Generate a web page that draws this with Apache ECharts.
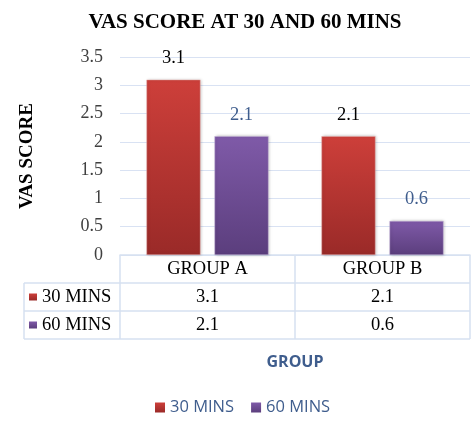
<!DOCTYPE html>
<html lang="en">
<head>
    <meta charset="UTF-8">
    <title>VAS score</title>
    <style>
        html, body { margin: 0; padding: 0; background: #fff; }
        #main { width: 471px; height: 421px; }
    </style>
</head>
<body>
    <div id="main"></div>
    <script src="https://cdn.jsdelivr.net/npm/echarts@6/dist/echarts.min.js"></script>
    <script>
        // data
        const groups = ['GROUP A', 'GROUP B']
        const mins30 = [3.1, 2.1]
        const mins60 = [2.1, 0.6]
        const seriesNames = ['30 MINS', '60 MINS']

        const serif = '"Liberation Serif", "Times New Roman", serif'
        const sans = '"Open Sans", Calibri, sans-serif'
        const tableLine = '#d6e1f1'
        const blueText = '#3f5d8d'

        const chart = echarts.init(document.getElementById('main'))

        // grid edges in px
        const gl = 120, gr = 470, gt = 57, gb = 255
        const rowH = 28

        const option = {
            animation: false,
            title: {
                text: 'VAS SCORE AT 30 AND 60 MINS',
                left: 240,
                textAlign: 'center',
                top: 7,
                textStyle: { fontFamily: serif, fontWeight: 'bold', fontSize: 21, color: '#000' }
            },
            legend: [{
                // bottom legend
                data: seriesNames,
                left: 155,
                top: 399,
                padding: 0,
                icon: 'rect',
                itemWidth: 10,
                itemHeight: 10,
                itemGap: 17,
                itemStyle: { borderWidth: 0, shadowBlur: 0 },
                textStyle: { fontFamily: sans, fontSize: 16.5, color: blueText }
            }, {
                // legend keys inside the data table
                data: seriesNames,
                orient: 'vertical',
                left: 29,
                top: gb + rowH,
                padding: 0,
                icon: 'rect',
                itemWidth: 8,
                itemHeight: 7,
                itemGap: 0,
                selectedMode: false,
                itemStyle: { borderWidth: 0, shadowBlur: 0 },
                textStyle: { fontFamily: serif, fontSize: 18.5, color: '#000', lineHeight: rowH }
            }],
            grid: { left: gl, right: 471 - gr, top: gt, bottom: 421 - gb },
            xAxis: {
                type: 'category',
                data: groups,
                name: 'GROUP',
                nameLocation: 'middle',
                nameGap: 99,
                nameTextStyle: { fontFamily: sans, fontWeight: 'bold', fontSize: 16, color: blueText },
                axisLine: { lineStyle: { color: tableLine, width: 1.5 } },
                axisTick: { show: false },
                axisLabel: {
                    margin: 0,
                    lineHeight: rowH,
                    fontFamily: serif,
                    fontSize: 18.5,
                    color: '#000',
                    formatter: (v, i) => v + '\n' + mins30[i] + '\n' + mins60[i]
                }
            },
            yAxis: {
                type: 'value',
                min: 0,
                max: 3.5,
                interval: 0.5,
                name: 'VAS SCORE',
                nameLocation: 'middle',
                nameGap: 83,
                nameTextStyle: { fontFamily: serif, fontWeight: 'bold', fontSize: 19, color: '#000' },
                axisLine: { show: false },
                axisTick: { show: false },
                axisLabel: { margin: 17, fontFamily: serif, fontSize: 18, color: '#404040' },
                splitLine: { lineStyle: { color: '#d9e2f3' } }
            },
            series: [{
                name: seriesNames[0],
                type: 'bar',
                data: mins30,
                barWidth: 54,
                barGap: '26%',
                itemStyle: {
                    color: new echarts.graphic.LinearGradient(0, 0, 0, 1, [
                        { offset: 0, color: '#cd3f3a' },
                        { offset: 1, color: '#9a2a28' }
                    ]),
                    borderColor: '#e8b0ae',
                    borderWidth: 0.5,
                    shadowColor: 'rgba(0,0,0,0.25)',
                    shadowBlur: 3,
                    shadowOffsetX: 1
                },
                label: {
                    show: true,
                    position: 'top',
                    distance: 12,
                    fontFamily: serif,
                    fontSize: 18.5,
                    color: '#000'
                }
            }, {
                name: seriesNames[1],
                type: 'bar',
                data: mins60,
                barWidth: 54,
                itemStyle: {
                    color: new echarts.graphic.LinearGradient(0, 0, 0, 1, [
                        { offset: 0, color: '#7f5aa8' },
                        { offset: 1, color: '#5b3e7d' }
                    ]),
                    borderColor: '#c4b3d8',
                    borderWidth: 0.5,
                    shadowColor: 'rgba(0,0,0,0.25)',
                    shadowBlur: 3,
                    shadowOffsetX: 1
                },
                label: {
                    show: true,
                    position: 'top',
                    distance: 12,
                    fontFamily: serif,
                    fontSize: 18.5,
                    color: blueText
                }
            }],
            color: ['#c0392f', '#7030a0']
        }

        // data table borders
        const tl = 24
        const mid = (gl + gr) / 2
        const lines = [
            [tl, gb + rowH, gr, gb + rowH],
            [tl, gb + rowH * 2, gr, gb + rowH * 2],
            [tl, gb + rowH * 3, gr, gb + rowH * 3],
            [tl, gb + rowH, tl, gb + rowH * 3],
            [gl, gb, gl, gb + rowH * 3],
            [mid, gb, mid, gb + rowH * 3],
            [gr, gb, gr, gb + rowH * 3]
        ]
        option.graphic = lines.map(l => ({
            type: 'line',
            shape: { x1: l[0], y1: l[1], x2: l[2], y2: l[3] },
            style: { stroke: tableLine, lineWidth: 1.5 },
            silent: true
        }))

        chart.setOption(option)
    </script>
</body>
</html>
